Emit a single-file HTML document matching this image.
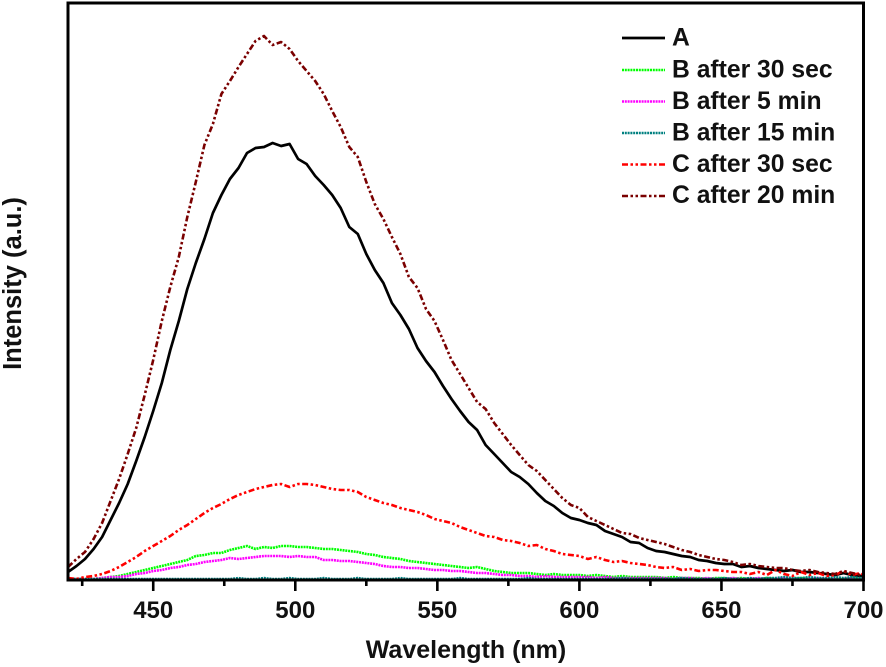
<!DOCTYPE html>
<html lang="en">
<head>
<meta charset="utf-8">
<title>Fluorescence intensity vs wavelength</title>
<style>
html,body{margin:0;padding:0;background:#fff;}
svg{display:block;font-family:"Liberation Sans",Arial,sans-serif;font-weight:bold;fill:#111;}
</style>
</head>
<body>
<svg id="chart" xmlns="http://www.w3.org/2000/svg" width="886" height="667" viewBox="0 0 886 667">
  <rect x="0" y="0" width="886" height="667" fill="#fff"/>
  <g id="series"></g>
  <rect x="68" y="3" width="795.5" height="577" fill="none" stroke="#000" stroke-width="3"/>
  <g id="ticks"></g>
  <text x="466" y="658" font-size="25" text-anchor="middle">Wavelength (nm)</text>
  <text transform="translate(21,283.5) rotate(-90)" font-size="25.5" text-anchor="middle">Intensity (a.u.)</text>
  <g id="legend"></g>
</svg>
<script>
const wavelengths = [
420,423,426,429,432,435,438,441,444,447,
450,453,456,459,462,465,468,471,474,477,
480,483,486,489,492,495,498,501,504,507,
510,513,516,519,522,525,528,531,534,537,
540,543,546,549,552,555,558,561,564,567,
570,573,576,579,582,585,588,591,594,597,
600,603,606,609,612,615,618,621,624,627,
630,633,636,639,642,645,648,651,654,657,
660,663,666,669,672,675,678,681,684,687,
690,693,696,699,700];
const seriesA = [
7,13,20,30,42,59,76,95,118,142,
168,196,229,258,290,316,340,366,384,400,
411,426,431,432,436,433,435,420,415,403,
394,384,371,352,345,325,309,296,276,264,
250,231,218,207,193,180,168,157,149,134,
125,116,107,102,95,86,78,73,66,61,
59,56,54,48,45,42,37,36,31,28,
27,25,23,22,19,18,16,15,15,12,
13,11,10,9,8,9,7,7,6,5,
4,6,4,3,3];
const seriesB30s = [
0,0,0,0,1,2,3,5,7,9,
11,13,15,17,19,23,24,26,26,29,
31,33,30,32,31,33,33,32,32,31,
30,30,29,28,27,25,24,22,21,20,
18,17,16,15,14,13,12,11,12,10,
8,7,6,6,6,5,4,5,4,4,
4,3,4,3,2,3,2,2,2,2,
1,2,1,1,1,0,1,1,0,1,
0,0,1,0,0,0,1,0,0,0,
0,0,1,0,0];
const seriesB5m = [
0,0,0,0,1,2,2,3,5,6,
8,9,11,12,14,15,17,18,19,21,
20,21,22,23,23,23,22,23,22,22,
19,19,18,18,17,16,15,13,12,12,
11,11,10,9,9,8,8,7,6,6,
5,4,4,3,3,2,3,2,2,2,
2,2,1,2,1,1,1,1,1,1,
1,0,1,1,0,1,0,0,1,0,
0,1,0,0,1,0,0,0,1,0,
0,0,1,0,0];
const seriesB15m = [
0,0,0,0,0,0,0,0,0,0,
0,0,0,0,0,0,0,0,0,0,
1,0,0,1,0,0,1,0,0,0,
1,0,0,0,1,0,0,0,0,1,
0,0,0,0,0,0,1,0,0,0,
0,0,0,0,1,0,0,0,0,0,
0,0,0,0,0,1,0,0,0,0,
0,0,1,0,0,0,0,1,0,0,
1,0,1,1,2,1,1,2,1,1,
2,1,2,1,1];
const seriesC30s = [
1,0,2,3,5,8,12,17,22,28,
33,38,43,49,54,60,66,71,75,80,
84,87,90,92,94,95,92,95,95,94,
92,90,89,89,87,82,79,76,74,71,
69,67,64,60,58,56,52,49,46,43,
42,39,38,36,33,34,30,28,25,24,
23,20,22,19,17,18,16,15,14,12,
11,12,9,10,8,9,9,8,7,7,
5,7,4,9,5,3,7,4,6,3,
4,8,4,6,4];
const seriesC20m = [
12,20,27,40,56,78,100,125,151,184,
219,258,292,322,362,397,434,455,485,498,
512,525,538,543,534,537,530,518,508,498,
485,468,452,432,422,397,375,360,342,325,
302,291,270,258,239,219,205,191,177,170,
156,145,134,124,114,108,99,90,81,74,
71,62,58,54,50,46,45,41,39,37,
35,32,29,27,24,22,20,19,17,14,
15,13,12,11,11,9,8,9,7,6,
5,8,6,4,4];
const legendLabels = ["A","B after 30 sec","B after 5 min","B after 15 min","C after 30 sec","C after 20 min"];
const majorTicks = [450,500,550,600,650,700];
const minorTicks = [425,475,525,575,625,675];

const NS = "http://www.w3.org/2000/svg";
const xDomain = [420,700], xRange = [68,863.5];
const yDomain = [0,576], yRange = [579,3];
function xScale(w){ return xRange[0] + (w - xDomain[0]) * (xRange[1] - xRange[0]) / (xDomain[1] - xDomain[0]); }
function yScale(v){ return yRange[0] + (v - yDomain[0]) * (yRange[1] - yRange[0]) / (yDomain[1] - yDomain[0]); }

const styles = [
  {values:seriesA,   color:"#000000", width:2.7, dash:"",             id:"a"},
  {values:seriesB30s,color:"#00ff00", width:2.6, dash:"2 0.8",        id:"b-30-sec"},
  {values:seriesB5m, color:"#ff00ff", width:2.6, dash:"2 0.8",        id:"b-5-min"},
  {values:seriesB15m,color:"#008080", width:2.4, dash:"2 0.8",        id:"b-15-min"},
  {values:seriesC30s,color:"#ff0000", width:2.6, dash:"6 2.5 2.5 2.5 2.5 2.5", id:"c-30-sec"},
  {values:seriesC20m,color:"#7a0000", width:2.6, dash:"6 2.5 2.5 2.5 2.5 2.5", id:"c-20-min"}
];
const seriesGroup = document.getElementById("series");
const legendGroup = document.getElementById("legend");
const legendRowY = [38,70,101.5,133,164.5,196];
const legendBaseY = [45.5,77.5,109,140.5,172,203];

styles.forEach(function(s,i){
  const pts = wavelengths.map(function(w,k){ return xScale(w).toFixed(1)+","+yScale(s.values[k]).toFixed(1); }).join(" ");
  const line = document.createElementNS(NS,"polyline");
  line.setAttribute("points",pts);
  line.setAttribute("fill","none");
  line.setAttribute("stroke",s.color);
  line.setAttribute("stroke-width",s.width);
  line.setAttribute("stroke-linejoin","round");
  if(s.dash) line.setAttribute("stroke-dasharray",s.dash);
  
  
  seriesGroup.appendChild(line);

  const key = document.createElementNS(NS,"line");
  key.setAttribute("x1",622);
  key.setAttribute("x2",665);
  key.setAttribute("y1",legendRowY[i]);
  key.setAttribute("y2",legendRowY[i]);
  key.setAttribute("stroke",s.color);
  key.setAttribute("stroke-width",s.width);
  if(s.dash) key.setAttribute("stroke-dasharray",s.dash);
  
  
  legendGroup.appendChild(key);

  const label = document.createElementNS(NS,"text");
  label.setAttribute("x",672);
  label.setAttribute("y",legendBaseY[i]);
  label.setAttribute("font-size",24.7);
  label.textContent = legendLabels[i];
  
  
  legendGroup.appendChild(label);
});

const tickGroup = document.getElementById("ticks");
function addTick(w,len){
  const t = document.createElementNS(NS,"line");
  t.setAttribute("x1",xScale(w));
  t.setAttribute("x2",xScale(w));
  t.setAttribute("y1",580);
  t.setAttribute("y2",580+len);
  t.setAttribute("stroke","#000");
  t.setAttribute("stroke-width",2.6);
  
  
  tickGroup.appendChild(t);
}
minorTicks.forEach(function(w){ addTick(w,6); });
majorTicks.forEach(function(w){
  addTick(w,11);
  const lab = document.createElementNS(NS,"text");
  lab.setAttribute("x",xScale(w));
  lab.setAttribute("y",618);
  lab.setAttribute("font-size",24);
  lab.setAttribute("text-anchor","middle");
  lab.textContent = w;
  
  
  tickGroup.appendChild(lab);
});
</script>
</body>
</html>
